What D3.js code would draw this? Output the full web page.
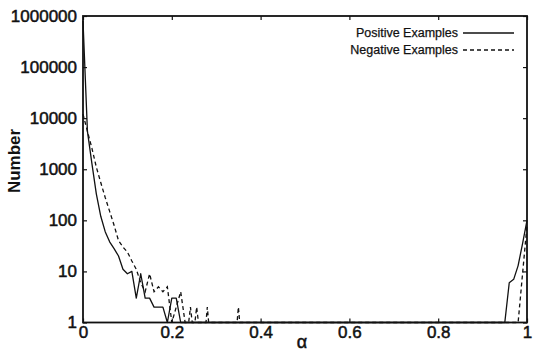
<!DOCTYPE html>
<html>
<head>
<meta charset="utf-8">
<script src="https://cdn.jsdelivr.net/npm/d3@7"></script>
<style>
  html, body { margin: 0; padding: 0; background: #fff; }
  svg { display: block; }
  text { font-family: "Liberation Sans", Arial, Helvetica, sans-serif; fill: #111; }
</style>
</head>
<body>
<div id="chart"></div>
<script>
// ---- data ----
const posAlpha = [0, 0.01, 0.02, 0.03, 0.04, 0.05, 0.06, 0.07, 0.08, 0.09, 0.10, 0.11, 0.12, 0.13, 0.14, 0.15, 0.16, 0.17, 0.18, 0.19, 0.20, 0.21, 0.22,
                  0.95, 0.96, 0.97, 0.98, 0.99, 1.0];
const posCount = [800000, 5500, 1300, 330, 120, 60, 38, 28, 20, 11, 9, 10, 3, 9, 3, 3, 2, 2, 2, 1, 3, 3, 1,
                  1, 6, 7, 13, 35, 100];

const negAlpha = [0, 0.01, 0.02, 0.03, 0.04, 0.05, 0.06, 0.07, 0.08, 0.09, 0.10, 0.11, 0.12, 0.13, 0.14, 0.15, 0.16, 0.17, 0.18, 0.19, 0.20, 0.21, 0.22, 0.23,
                  0.238, 0.242, 0.246, 0.252, 0.256, 0.26, 0.277, 0.28, 0.283, 0.347, 0.35, 0.353, 0.98, 0.99, 1.0];
const negCount = [12000, 5500, 2600, 1100, 550, 280, 150, 80, 40, 30, 24, 16, 11, 6, 4, 9, 4, 5, 4, 5, 1, 2, 4, 1,
                  1, 2, 1, 1, 2, 1, 1, 2, 1, 1, 2, 1, 1, 9, 80];

const xTicks = [0, 0.2, 0.4, 0.6, 0.8, 1];
const yTicks = [1, 10, 100, 1000, 10000, 100000, 1000000];
const seriesNames = ["Positive Examples", "Negative Examples"];

// ---- layout ----
const W = 533, H = 354;
const L = 83, R = 527, T = 16, B = 322.5;

const svg = d3.select("#chart").append("svg").attr("width", W).attr("height", H);

const x = d3.scaleLinear().domain([0, 1]).range([L, R]);
const y = d3.scaleLog().domain([1, 1000000]).range([B, T]);

const tickLen = 4;

// axes
const gx = svg.append("g").attr("transform", `translate(0,${B})`)
  .call(d3.axisBottom(x).tickValues(xTicks).tickFormat(d3.format("")).tickSizeInner(-tickLen).tickSizeOuter(0).tickPadding(3));
const gy = svg.append("g").attr("transform", `translate(${L},0)`)
  .call(d3.axisLeft(y).tickValues(yTicks).tickFormat(d3.format("d")).tickSizeInner(-tickLen).tickSizeOuter(0).tickPadding(6));
const gt = svg.append("g").attr("transform", `translate(0,${T})`)
  .call(d3.axisTop(x).tickValues(xTicks).tickFormat("").tickSizeInner(-tickLen).tickSizeOuter(0));
const gr = svg.append("g").attr("transform", `translate(${R},0)`)
  .call(d3.axisRight(y).tickValues(yTicks).tickFormat("").tickSizeInner(-tickLen).tickSizeOuter(0));

[gx, gy, gt, gr].forEach(g => {
  g.attr("font-family", null);
  g.select(".domain").remove();
  g.selectAll(".tick line").attr("stroke", "#111").attr("stroke-width", 1.2);
  g.selectAll("text").attr("font-size", 17).attr("fill", "#111")
    .attr("stroke", "#111").attr("stroke-width", 0.5);
});

// frame
svg.append("rect").attr("x", L).attr("y", T).attr("width", R - L).attr("height", B - T)
  .attr("fill", "none").attr("stroke", "#111").attr("stroke-width", 1.8);

// lines
const line = d3.line().x(d => x(d[0])).y(d => y(d[1]));
const posData = posAlpha.map((a, i) => [a, posCount[i]]);
const negData = negAlpha.map((a, i) => [a, negCount[i]]);

svg.append("path").datum(posData).attr("d", line)
  .attr("fill", "none").attr("stroke", "#111").attr("stroke-width", 1.3).attr("stroke-linejoin", "round");
svg.append("path").datum(negData).attr("d", line)
  .attr("fill", "none").attr("stroke", "#111").attr("stroke-width", 1.3).attr("stroke-dasharray", "4,3");

// legend
const legX = 458, legY = [33, 50];
seriesNames.forEach((name, i) => {
  svg.append("text").attr("x", legX).attr("y", legY[i]).attr("dy", "0.35em")
    .attr("text-anchor", "end").attr("font-size", 12.5)
    .attr("stroke", "#111").attr("stroke-width", 0.25).text(name);
  svg.append("line").attr("x1", 463).attr("x2", 514).attr("y1", legY[i]).attr("y2", legY[i])
    .attr("stroke", "#111").attr("stroke-width", 1.3)
    .attr("stroke-dasharray", i === 1 ? "4,3" : null);
});

// axis titles
svg.append("text").attr("x", 302).attr("y", 348).attr("text-anchor", "middle")
  .attr("font-size", 18).attr("stroke", "#111").attr("stroke-width", 0.5).text("α");
svg.append("text").attr("transform", `translate(20,161) rotate(-90)`).attr("text-anchor", "middle")
  .attr("font-size", 17).attr("font-weight", "bold").text("Number");
</script>
</body>
</html>
